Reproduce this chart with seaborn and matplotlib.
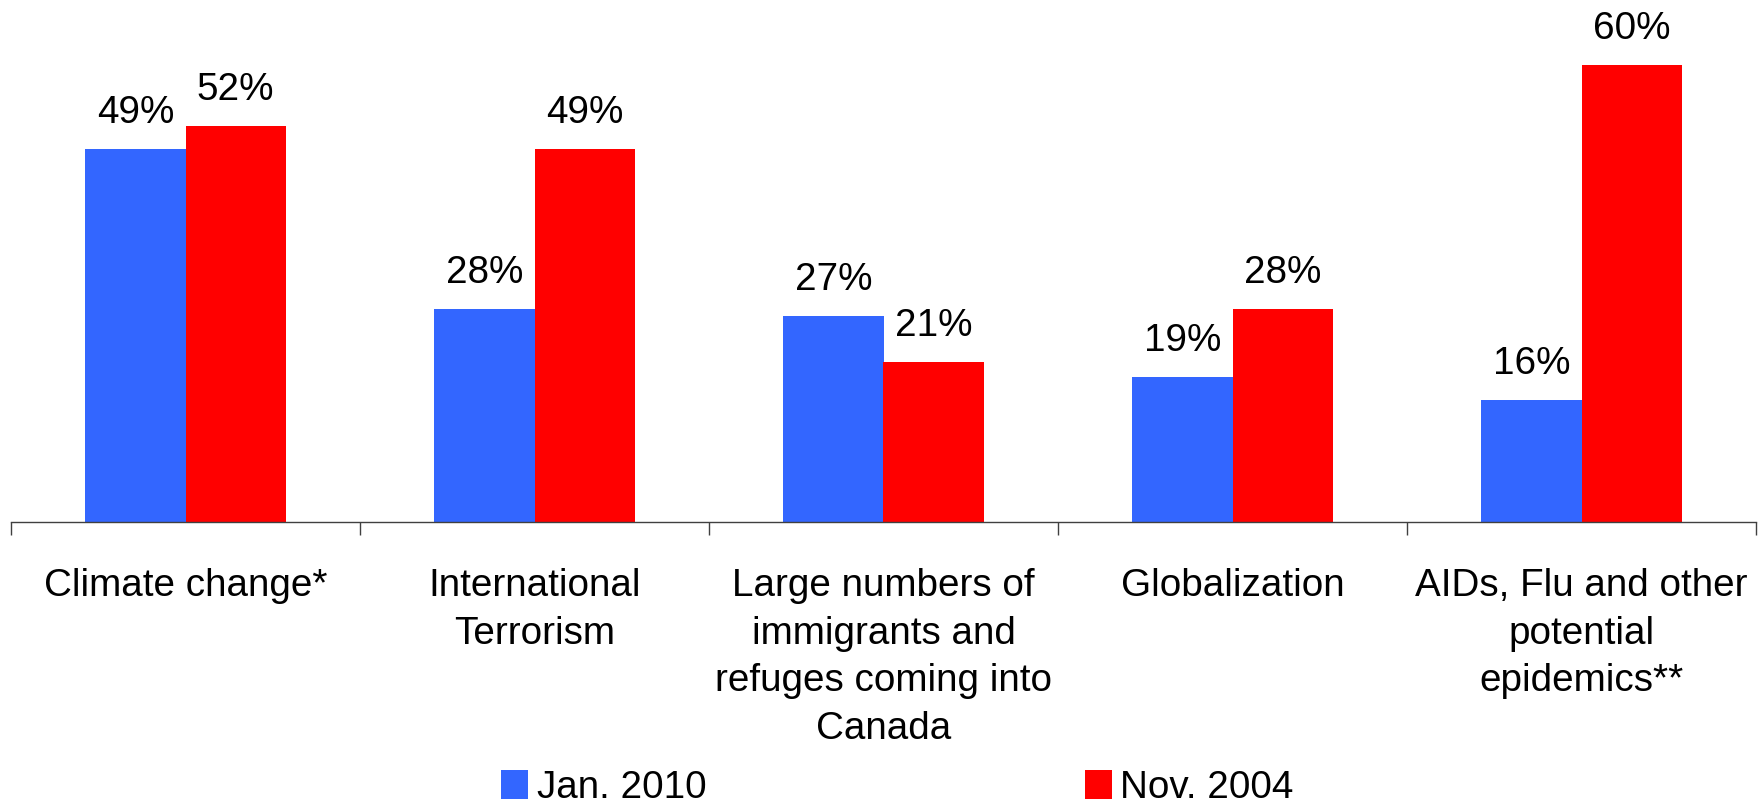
"""
Grouped bars: share of respondents seeing each issue as a threat,
Jan. 2010 vs Nov. 2004.

Output: out.png (1763x807)
"""

import matplotlib.pyplot as plt
import numpy as np
import pandas as pd
import seaborn as sns
from matplotlib.ticker import FixedLocator

CATEGORIES = [
    "Climate change*",
    "International\nTerrorism",
    "Large numbers of\nimmigrants and\nrefuges coming into\nCanada",
    "Globalization",
    "AIDs, Flu and other\npotential\nepidemics**",
]
JAN_2010 = [49, 28, 27, 19, 16]
NOV_2004 = [52, 49, 21, 28, 60]
SERIES = ["Jan. 2010", "Nov. 2004"]
COLORS = ["#3366FF", "#FF0000"]

DPI = 100
FS = 27.8


def main() -> None:
    plt.rcParams["font.family"] = ["Liberation Sans", "DejaVu Sans"]

    df = pd.DataFrame({
        "category": CATEGORIES * 2,
        "value": JAN_2010 + NOV_2004,
        "survey": [SERIES[0]] * len(CATEGORIES) + [SERIES[1]] * len(CATEGORIES),
    })

    fig = plt.figure(figsize=(1763 / DPI, 807 / DPI), dpi=DPI)
    ax = fig.add_axes([11 / 1763, 1 - 522 / 807, (1756 - 11) / 1763, 522 / 807])

    sns.barplot(
        data=df, x="category", y="value", hue="survey", order=CATEGORIES,
        hue_order=SERIES, palette=COLORS, saturation=1, width=0.575,
        errorbar=None, ax=ax, legend=True,
    )

    for cont in ax.containers:
        ax.bar_label(cont, labels=[f"{v:.0f}%" for v in cont.datavalues],
                     padding=13, fontsize=FS, color="black")

    ax.set_xlim(-0.5, len(CATEGORIES) - 0.5)
    ax.set_ylim(0, 68.5)
    ax.set_xlabel("")
    ax.set_ylabel("")
    ax.set_yticks([])
    for side in ["top", "right", "left"]:
        ax.spines[side].set_visible(False)
    ax.spines["bottom"].set_color("#404040")
    ax.spines["bottom"].set_linewidth(1.0)

    ax.set_xticks(range(len(CATEGORIES)), labels=CATEGORIES, fontsize=FS,
                  ha="center", multialignment="center", linespacing=1.42)
    ax.tick_params(axis="x", which="major", length=0, pad=33)
    ax.xaxis.set_minor_locator(FixedLocator(np.arange(-0.5, len(CATEGORIES), 1.0)))
    ax.tick_params(axis="x", which="minor", length=9, width=1.0,
                   color="#404040", direction="out")

    handles, labels = ax.get_legend_handles_labels()
    ax.get_legend().remove()
    fig.legend(
        handles, labels, loc="center", bbox_to_anchor=(0.509, 0.024), ncol=2,
        frameon=False, fontsize=FS, handlelength=0.7, handleheight=0.8,
        handletextpad=0.22, columnspacing=9.8, borderpad=0, borderaxespad=0,
    )

    fig.savefig("out.png", dpi=DPI)
    plt.close(fig)


if __name__ == "__main__":
    main()
